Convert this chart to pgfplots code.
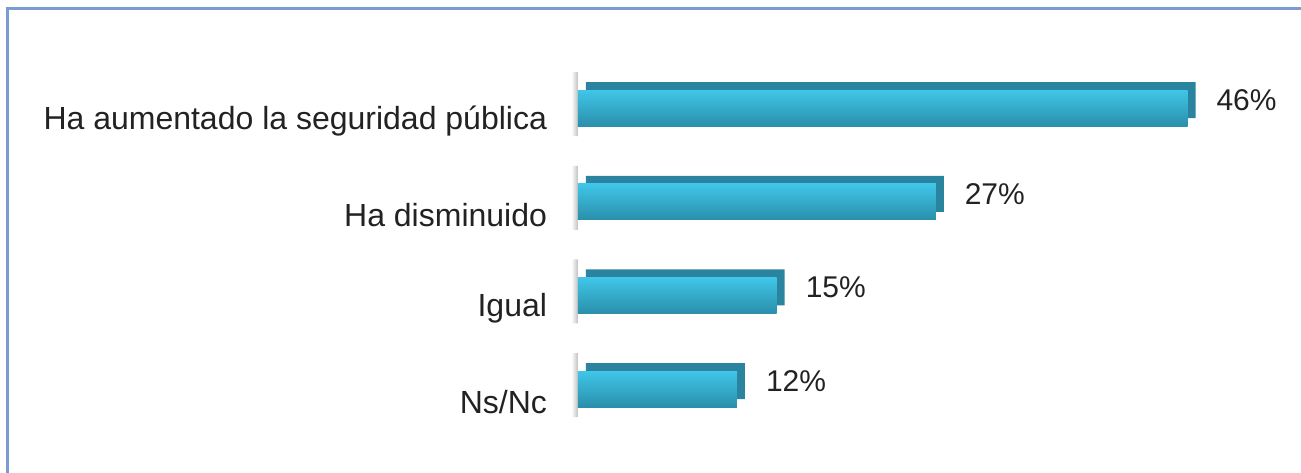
\documentclass[border=0pt]{standalone}
\usepackage{pgfplots}
\pgfplotsset{compat=1.18}
\usepackage{fontspec}
\setmainfont{Liberation Sans}
\definecolor{frameblue}{HTML}{7B9CD2}
\definecolor{frontTop}{HTML}{40C6E8}
\definecolor{frontMid}{HTML}{33AFD0}
\definecolor{frontBot}{HTML}{2A8FAA}
\definecolor{backFace}{HTML}{2A84A0}
\definecolor{labelgray}{HTML}{222222}
\begin{document}
\begin{tikzpicture}
\useasboundingbox (0,0) rectangle (650.5bp,236.5bp);
\draw[frameblue, line width=1.5bp] (3.5bp,-5bp) -- (3.5bp,232bp) -- (660bp,232bp);
\begin{axis}[
  at={(289bp,18.5bp)}, anchor=south west,
  scale only axis, width=331.25bp, height=187.4bp,
  xmin=0, xmax=50, ymin=-0.5, ymax=3.5, y dir=reverse,
  axis line style={draw=none},
  xtick=\empty, ytick={0,1,2,3},
  yticklabels={Ha aumentado la seguridad pública, Ha disminuido, Igual, Ns/Nc},
  major tick length=0pt,
  /pgf/number format/assume math mode=true,
  yticklabel style={font=\fontsize{16bp}{19bp}\selectfont, text=labelgray, yshift=-6.5bp, xshift=-12bp},
  clip=false,
  every axis plot/.append style={xbar, bar shift=0pt, bar width=18bp, draw=none},
  front/.style={top color=frontTop, middle color=frontMid, bottom color=frontBot},
]
% soft shadow at the bar roots
\addplot[bar width=32bp, left color=white, right color=black!25, yshift=2bp]
  coordinates {(-0.5,0) (-0.5,1) (-0.5,2) (-0.5,3)};
% back (top and side faces)
\addplot[fill=backFace, xshift=4bp, yshift=4bp,
  nodes near coords={\pgfmathprintnumber{\pgfplotspointmeta}\%},
  nodes near coords style={font=\fontsize{15bp}{18bp}\selectfont, text=labelgray, anchor=west, xshift=7bp}]
  coordinates {(46,0) (27,1) (15,2) (12,3)};
% front faces
\addplot[front] coordinates {(46,0)};
\addplot[front] coordinates {(27,1)};
\addplot[front] coordinates {(15,2)};
\addplot[front] coordinates {(12,3)};
\end{axis}
\end{tikzpicture}
\end{document}
